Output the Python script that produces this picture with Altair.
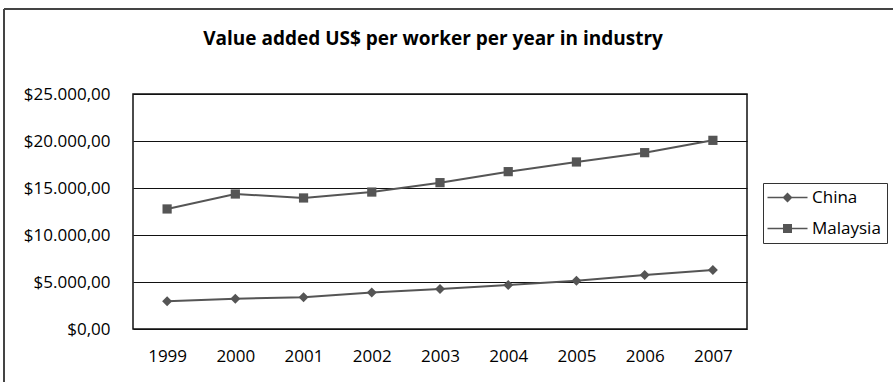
import altair as alt
import pandas as pd

years = ["1999", "2000", "2001", "2002", "2003", "2004", "2005", "2006", "2007"]
china = [2950, 3230, 3370, 3870, 4250, 4680, 5140, 5740, 6280]
malaysia = [12770, 14360, 13940, 14570, 15570, 16740, 17770, 18760, 20070]
series_names = ["China", "Malaysia"]
y_ticks = [0, 5000, 10000, 15000, 20000, 25000]
title_text = "Value added US$ per worker per year in industry"

rows = []
for name, vals in zip(series_names, [china, malaysia]):
    for y, v in zip(years, vals):
        rows.append({"year": y, "value": v, "series": name})
df = pd.DataFrame(rows)

FONT = "Open Sans"
GRAY = "#555555"
FS = 17

x_enc = alt.X("year:O", sort=years, title=None,
              axis=alt.Axis(labelAngle=0, ticks=False, domain=False, labelPadding=19,
                            labelFontSize=FS, labelFont=FONT, labelColor="#000"))
y_enc = alt.Y("value:Q", title=None,
              scale=alt.Scale(domain=[0, 25000], nice=False),
              axis=alt.Axis(values=y_ticks, ticks=False, domain=False, labelPadding=23,
                            labelFontSize=FS, labelFont=FONT, labelColor="#000",
                            grid=True, gridColor="#111", gridWidth=1,
                            labelExpr='"$" + replace(replace(replace(format(datum.value, ",.2f"), regexp(",", "g"), "X"), regexp("\\\\.", "g"), ","), regexp("X", "g"), ".")'))

base = alt.Chart(df)

lines = base.mark_line(color=GRAY, strokeWidth=2).encode(
    x=x_enc, y=y_enc, detail="series:N")

pts_china = base.transform_filter(alt.datum.series == "China").mark_point(
    filled=True, color=GRAY, opacity=1, shape="diamond", size=100).encode(x="year:O", y="value:Q")
pts_malaysia = base.transform_filter(alt.datum.series == "Malaysia").mark_point(
    filled=True, color=GRAY, opacity=1, shape="square", size=85).encode(x="year:O", y="value:Q")

# legend symbols: a thin bar (the line) plus the marker, all filled
diamond_path = "M-4,-0.15H4V0.15H-4ZM0,-1L1,0L0,1L-1,0Z"
square_path = "M-4,-0.15H4V0.15H-4ZM-0.9,-0.9H0.9V0.9H-0.9Z"

legend_carrier = base.mark_point(filled=True, fill=GRAY, opacity=0).encode(
    x="year:O", y="value:Q",
    shape=alt.Shape("series:N",
                    scale=alt.Scale(domain=series_names, range=[diamond_path, square_path]),
                    legend=alt.Legend(title=None, orient="none", legendX=630, legendY=89,
                                      symbolOpacity=1, symbolSize=100,
                                      symbolFillColor=GRAY, symbolStrokeWidth=0,
                                      symbolOffset=10,
                                      labelOffset=16, labelFontSize=FS, labelFont=FONT,
                                      labelColor="#000", rowPadding=13, padding=6,
                                      labelExpr='datum.label + "\u00a0\u00a0"',
                                      strokeColor="#333", fillColor="white")))

frame_top = alt.Chart(pd.DataFrame({"a": [0]})).mark_rule(color="#444", strokeWidth=2).encode(
    x=alt.value(-129), x2=alt.value(770), y=alt.value(-85))
frame_left = alt.Chart(pd.DataFrame({"a": [0]})).mark_rule(color="#444", strokeWidth=2).encode(
    x=alt.value(-129), y=alt.value(-85), y2=alt.value(300))

chart = alt.layer(frame_top, frame_left, lines, pts_china, pts_malaysia, legend_carrier).properties(
    width=614, height=235,
    padding={"left": 133, "top": 94, "right": 146, "bottom": 53},
    autosize=alt.AutoSizeParams(type="none"),
    title=alt.Title(title_text, anchor="middle", fontSize=19, font=FONT, fontWeight="bold",
                    color="#000", offset=-41, dx=-7),
).configure_view(stroke="#111", strokeWidth=1.5)

chart.save("out.html", embed_options={"renderer": "svg", "actions": False})
